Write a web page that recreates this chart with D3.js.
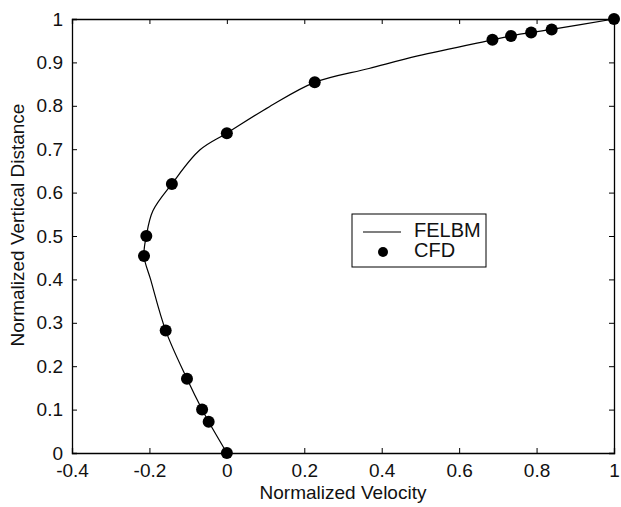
<!DOCTYPE html>
<html>
<head>
<meta charset="utf-8">
<script src="https://cdn.jsdelivr.net/npm/d3@7"></script>
<style>
  body { margin: 0; background: #fff; }
  svg { display: block; font-family: "Liberation Sans", Arial, sans-serif; }
</style>
</head>
<body>
<svg width="621" height="507"></svg>
<script>
var svg = d3.select('svg');

// CFD markers (velocity, distance)
var cfdVelocity = [0, -0.047, -0.064, -0.103, -0.158, -0.214, -0.208, -0.142, 0, 0.227, 0.686, 0.734, 0.786, 0.839, 1];
var cfdDistance = [0, 0.072, 0.100, 0.171, 0.282, 0.454, 0.500, 0.620, 0.737, 0.854, 0.952, 0.961, 0.969, 0.976, 1];

// FELBM curve
var felbmVelocity = [0, -0.047, -0.064, -0.103, -0.158, -0.197, -0.214, -0.208, -0.191, -0.142, -0.070, 0, 0.110, 0.227, 0.367, 0.493, 0.686, 0.734, 0.786, 0.839, 1];
var felbmDistance = [0, 0.072, 0.100, 0.171, 0.282, 0.400, 0.454, 0.500, 0.558, 0.620, 0.698, 0.737, 0.798, 0.854, 0.886, 0.915, 0.952, 0.961, 0.969, 0.976, 1];

var xTicks = [-0.4, -0.2, 0, 0.2, 0.4, 0.6, 0.8, 1];
var yTicks = [0, 0.1, 0.2, 0.3, 0.4, 0.5, 0.6, 0.7, 0.8, 0.9, 1];

var plot = {l: 72, r: 614, t: 19, b: 453};

var x = d3.scaleLinear().domain([-0.4, 1]).range([plot.l, plot.r]);
var y = d3.scaleLinear().domain([0, 1]).range([plot.b, plot.t]);

var fmt = function(d) { return String(+d.toFixed(1)); };

// axes, MATLAB box style with inward ticks
svg.append('g')
    .attr('transform', 'translate(0,' + plot.b + ')')
    .call(d3.axisBottom(x).tickValues(xTicks).tickSize(-5).tickPadding(11).tickFormat(fmt));
svg.append('g')
    .attr('transform', 'translate(0,' + plot.t + ')')
    .call(d3.axisTop(x).tickValues(xTicks).tickSize(-5).tickFormat(''));
svg.append('g')
    .attr('transform', 'translate(' + plot.l + ',0)')
    .call(d3.axisLeft(y).tickValues(yTicks).tickSize(-5).tickPadding(9).tickFormat(fmt));
svg.append('g')
    .attr('transform', 'translate(' + plot.r + ',0)')
    .call(d3.axisRight(y).tickValues(yTicks).tickSize(-5).tickFormat(''));

svg.selectAll('.domain').attr('stroke', '#000').attr('stroke-width', 1.3);
svg.selectAll('.tick line').attr('stroke', '#000').attr('stroke-width', 1);
svg.selectAll('.tick text')
    .attr('fill', '#111')
    .style('font-size', '19px')
    .style('font-family', '"Liberation Sans", Arial, sans-serif');

// axis labels
svg.append('text')
    .attr('x', (plot.l + plot.r) / 2)
    .attr('y', 499)
    .attr('text-anchor', 'middle')
    .attr('fill', '#111')
    .style('font-size', '19px')
    .text('Normalized Velocity');

svg.append('text')
    .attr('transform', 'translate(24,225) rotate(-90)')
    .attr('text-anchor', 'middle')
    .attr('fill', '#111')
    .style('font-size', '19px')
    .text('Normalized Vertical Distance');

// FELBM line
var lineData = felbmVelocity.map(function(v, i) { return {v: v, d: felbmDistance[i]}; });
var line = d3.line()
    .x(function(d) { return x(d.v); })
    .y(function(d) { return y(d.d); })
    .curve(d3.curveCatmullRom.alpha(0.5));

svg.append('path')
    .datum(lineData)
    .attr('fill', 'none')
    .attr('stroke', '#000')
    .attr('stroke-width', 1.2)
    .attr('d', line);

// CFD markers
var cfdData = cfdVelocity.map(function(v, i) { return {v: v, d: cfdDistance[i]}; });
svg.selectAll('.dot')
    .data(cfdData)
    .enter()
    .append('circle')
    .attr('class', 'dot')
    .attr('cx', function(d) { return x(d.v); })
    .attr('cy', function(d) { return y(d.d); })
    .attr('r', 6)
    .attr('fill', '#000');

// legend
var legend = svg.append('g').attr('transform', 'translate(352,214)');
legend.append('rect')
    .attr('width', 134)
    .attr('height', 53)
    .attr('fill', '#fff')
    .attr('stroke', '#000')
    .attr('stroke-width', 1);
legend.append('line')
    .attr('x1', 11).attr('x2', 49)
    .attr('y1', 18).attr('y2', 18)
    .attr('stroke', '#000')
    .attr('stroke-width', 1.2);
legend.append('circle')
    .attr('cx', 31).attr('cy', 38)
    .attr('r', 5)
    .attr('fill', '#000');
legend.selectAll('text.legendLabel')
    .data(['FELBM', 'CFD'])
    .enter()
    .append('text')
    .attr('class', 'legendLabel')
    .attr('x', 62)
    .attr('y', function(d, i) { return 16 + i * 20; })
    .attr('dy', '0.36em')
    .attr('fill', '#111')
    .style('font-size', '20px')
    .text(function(d) { return d; });
</script>
</body>
</html>
